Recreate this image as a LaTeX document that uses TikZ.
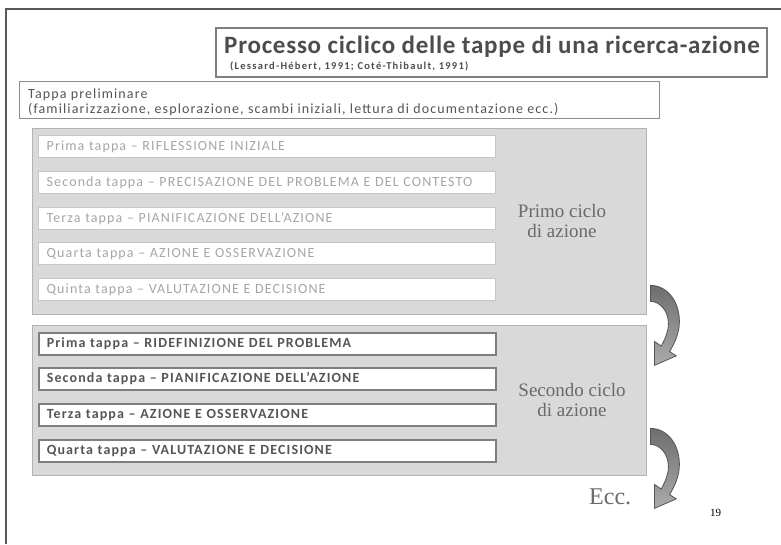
\documentclass[tikz,border=0pt]{standalone}
\usepackage{fontspec}
\setmainfont{Liberation Serif}
\newfontfamily\calib[Ligatures=TeX]{Carlito}
\newfontfamily\calibwide[Ligatures=TeX,LetterSpace=8]{Carlito}
\newfontfamily\calibtitle[Ligatures=TeX,LetterSpace=3]{Carlito}
\newfontfamily\calibsub[Ligatures=TeX,LetterSpace=12]{Carlito}
\usetikzlibrary{calc}
\definecolor{framec}{HTML}{595959}
\definecolor{titlec}{HTML}{4D4D4D}
\definecolor{tboxc}{HTML}{7F7F7F}
\definecolor{prec}{HTML}{8C8C8C}
\definecolor{panelfill}{HTML}{D9D9D9}
\definecolor{paneledge}{HTML}{B3B3B3}
\definecolor{lightedge}{HTML}{C6C6C6}
\definecolor{lighttext}{HTML}{A6A6A6}
\definecolor{darkedge}{HTML}{7F7F7F}
\definecolor{darktext}{HTML}{555555}
\definecolor{serifc}{HTML}{6A6A6A}
\definecolor{arrowedge}{HTML}{555555}
\definecolor{arrowtop}{HTML}{6E6E6E}
\definecolor{arrowbot}{HTML}{ABABAB}
\tikzset{
  framel/.style={draw=framec, line width=2pt},
  titlebox/.style={draw=tboxc, line width=1.6pt, fill=white, anchor=north west, inner sep=0pt},
  prebox/.style={draw=prec, line width=1.1pt, fill=white, anchor=north west, inner sep=0pt},
  panel/.style={draw=paneledge, line width=1.4pt, fill=panelfill, anchor=north west, inner sep=0pt},
  lightstep/.style={draw=lightedge, line width=1.4pt, fill=white, anchor=north west,
    minimum width=457pt, minimum height=22pt, text width=441pt, inner xsep=8pt, inner ysep=0pt,
    align=left, text=lighttext, font=\calibwide\fontsize{14}{15}\selectfont},
  darkstep/.style={draw=darkedge, line width=1.6pt, fill=white, anchor=north west,
    minimum width=457pt, minimum height=22pt, text width=441pt, inner xsep=8pt, inner ysep=0pt,
    align=left, text=darktext, font=\calibwide\bfseries\fontsize{14}{15}\selectfont},
  pretext/.style={anchor=base west, inner sep=0pt, text=darktext, font=\calibwide\fontsize{14}{15}\selectfont},
  cyclelabel/.style={align=center, text=serifc, font=\fontsize{19}{20}\selectfont, inner sep=0pt},
  arrowbody/.style={draw=arrowedge, line width=0.8pt, top color=arrowtop, bottom color=arrowbot},
  curvarrow/.pic={\path[arrowbody] (0,0) .. controls (17,0) and (29,16) .. (29,36)
     .. controls (29,48) and (24,58) .. (19.2,66.2) -- (25.8,70.5) -- (4,80) -- (4.2,56.2)
     -- (10.8,60.6) .. controls (15,53) and (18,46) .. (18,38)
     .. controls (18,26) and (10,16) .. (0,16) -- cycle;}
}
\begin{document}
\begin{tikzpicture}[x=1pt,y=-1pt]
\useasboundingbox[fill=white] (0,0) rectangle (781,544);
% outer frame
\coordinate (fbl) at (6,544);
\coordinate (ftl) at (6,9);
\coordinate (ftr) at (781,9);
\draw[framel] (fbl) -- (ftl) -- (ftr);
% title
\node[titlebox, minimum width=551pt, minimum height=49pt] (tb) at (215,27) {};
\node[anchor=base west, inner sep=0pt, text=titlec, font=\calibtitle\bfseries\fontsize{25}{26}\selectfont] (tt) at (224,53) {Processo ciclico delle tappe di una ricerca-azione};
\node[anchor=base west, inner sep=0pt, text=titlec, font=\calibsub\bfseries\fontsize{10.5}{11}\selectfont] (ts) at (230,69) {(Lessard-Hébert, 1991; Coté-Thibault, 1991)};
% preliminary
\node[prebox, minimum width=640pt, minimum height=37pt] (pb) at (19,81) {};
\node[pretext] (pt1) at (28,98) {Tappa preliminare};
\node[pretext] (pt2) at (28,113) {(familiarizzazione, esplorazione, scambi iniziali, lettura di documentazione ecc.)};
% first cycle
\node[panel, minimum width=614pt, minimum height=186pt] (p1) at (32,128) {};
\node[lightstep] (a1) at (38,135) {Prima tappa – RIFLESSIONE INIZIALE};
\node[lightstep] (a2) at (38,171) {Seconda tappa – PRECISAZIONE DEL PROBLEMA E DEL CONTESTO};
\node[lightstep] (a3) at (38,207) {Terza tappa – PIANIFICAZIONE DELL’AZIONE};
\node[lightstep] (a4) at (38,242) {Quarta tappa – AZIONE E OSSERVAZIONE};
\node[lightstep] (a5) at (38,278) {Quinta tappa – VALUTAZIONE E DECISIONE};
\node[cyclelabel] (c1) at (562,221) {Primo ciclo\\di azione};
% second cycle
\node[panel, minimum width=614pt, minimum height=150pt] (p2) at (32,325) {};
\node[darkstep] (b1) at (38,332) {Prima tappa – RIDEFINIZIONE DEL PROBLEMA};
\node[darkstep] (b2) at (38,367) {Seconda tappa – PIANIFICAZIONE DELL’AZIONE};
\node[darkstep] (b3) at (38,403) {Terza tappa – AZIONE E OSSERVAZIONE};
\node[darkstep] (b4) at (38,439) {Quarta tappa – VALUTAZIONE E DECISIONE};
\node[cyclelabel] (c2) at (572,400) {Secondo ciclo\\di azione};
% curved arrows
\coordinate (arr1) at ($(p1.south east)+(3,-30)$);
\coordinate (arr2) at ($(p2.south east)+(3,-48)$);
\pic at (arr1) {curvarrow};
\pic at (arr2) {curvarrow};
% ecc and page number
\node[anchor=base west, inner sep=0pt, text=serifc, font=\fontsize{24}{25}\selectfont] (ecc) at (589,504) {Ecc.};
\node[anchor=base west, inner sep=0pt, text=black, font=\fontsize{11}{12}\selectfont] (pg) at (710,516) {19};
\end{tikzpicture}
\end{document}
